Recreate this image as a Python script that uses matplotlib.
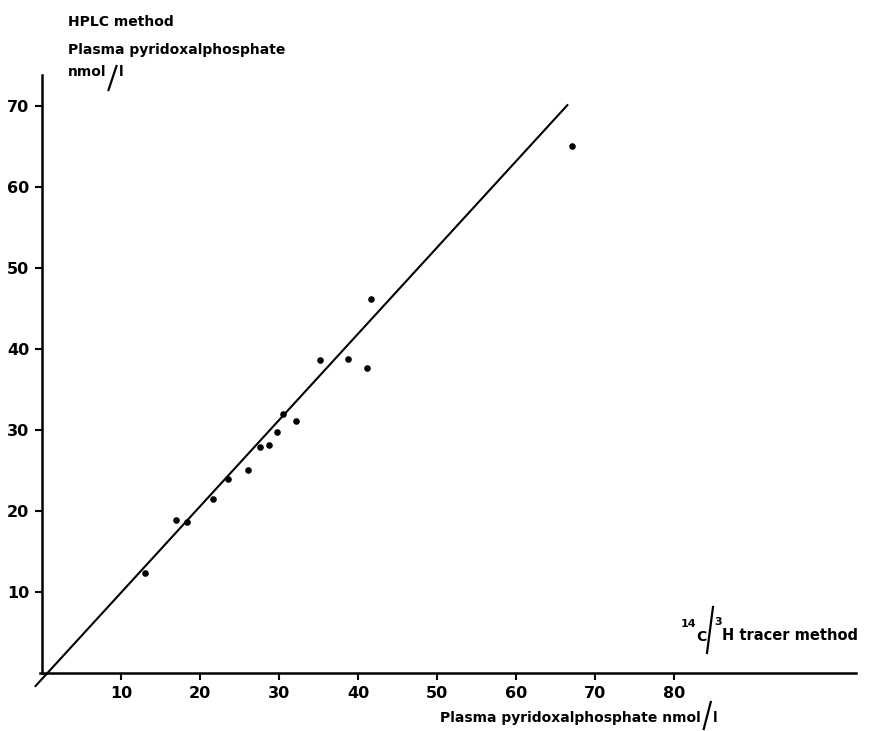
import matplotlib.pyplot as plt
from matplotlib.lines import Line2D

# tracer method (x) vs HPLC method (y), nmol/l
tracer = [13.0, 17.0, 18.4, 21.7, 23.5, 26.1, 27.6, 28.7, 29.8, 30.5, 32.1,
          35.2, 38.7, 41.2, 41.6, 67.1]
hplc = [12.3, 18.85, 18.6, 21.5, 23.9, 25.0, 27.9, 28.1, 29.7, 32.0, 31.1,
        38.6, 38.8, 37.7, 46.2, 65.1]

# drawn regression line
line_x = [-0.9, 66.6]
line_y = [-1.7, 70.2]

x_ticks = [10, 20, 30, 40, 50, 60, 70, 80]
y_ticks = [10, 20, 30, 40, 50, 60, 70]

W, H = 872, 731
fig = plt.figure(figsize=(W / 100, H / 100), dpi=100)
ax = fig.add_axes([0.03, 0.0461, 0.9603, 0.8754])
ax.set_xlim(-2, 104)
ax.set_ylim(-3, 76)

for side in ["top", "right"]:
    ax.spines[side].set_visible(False)
ax.spines["left"].set_position(("data", 0))
ax.spines["bottom"].set_position(("data", 0))
ax.spines["left"].set_bounds(0, 73.8)
ax.spines["bottom"].set_bounds(-0.3, 103)
for side in ["left", "bottom"]:
    ax.spines[side].set_linewidth(1.8)

ax.set_xticks(x_ticks)
ax.set_yticks(y_ticks)
ax.tick_params(direction="out", length=5, width=1.5, labelsize=11.5, pad=4)
for lab in ax.get_xticklabels() + ax.get_yticklabels():
    lab.set_fontweight("bold")

ax.plot(line_x, line_y, color="black", lw=1.5, solid_capstyle="butt")
ax.scatter(tracer, hplc, s=14, color="black", zorder=3)

bold = dict(fontsize=10, fontweight="bold", family="DejaVu Sans")


def px(x, y):
    return x / W, 1 - y / H


def slash(x0, y0, x1, y1):
    fig.add_artist(Line2D([x0 / W, x1 / W], [1 - y0 / H, 1 - y1 / H],
                          color="black", lw=1.6, transform=fig.transFigure))


def right_edge(t):
    fig.canvas.draw()
    return t.get_window_extent().x1


# y axis title
fig.text(*px(68, 22), "HPLC method", va="center", ha="left", **bold)
fig.text(*px(68, 50), "Plasma pyridoxalphosphate", va="center", ha="left", **bold)
t = fig.text(*px(68, 72), "nmol", va="center", ha="left", **bold)
xe = right_edge(t)
slash(xe + 2, 90, xe + 10, 66)
fig.text(*px(xe + 12, 72), "l", va="center", ha="left", **bold)

# x axis title
fig.text(*px(681, 624), "14", va="center", ha="left", fontsize=8, fontweight="bold")
fig.text(*px(696, 637), "C", va="center", ha="left", **bold)
slash(707, 653, 713, 607)
fig.text(*px(714, 622), "3", va="center", ha="left", fontsize=8, fontweight="bold")
fig.text(*px(722, 635), "H tracer method", va="center", ha="left", fontsize=10.5,
         fontweight="bold")

t = fig.text(*px(440, 718), "Plasma pyridoxalphosphate nmol", va="center", ha="left", **bold)
xe = right_edge(t)
slash(xe + 3, 729, xe + 10, 702)
fig.text(*px(xe + 12, 718), "l", va="center", ha="left", **bold)

fig.savefig("out.png", dpi=100)
